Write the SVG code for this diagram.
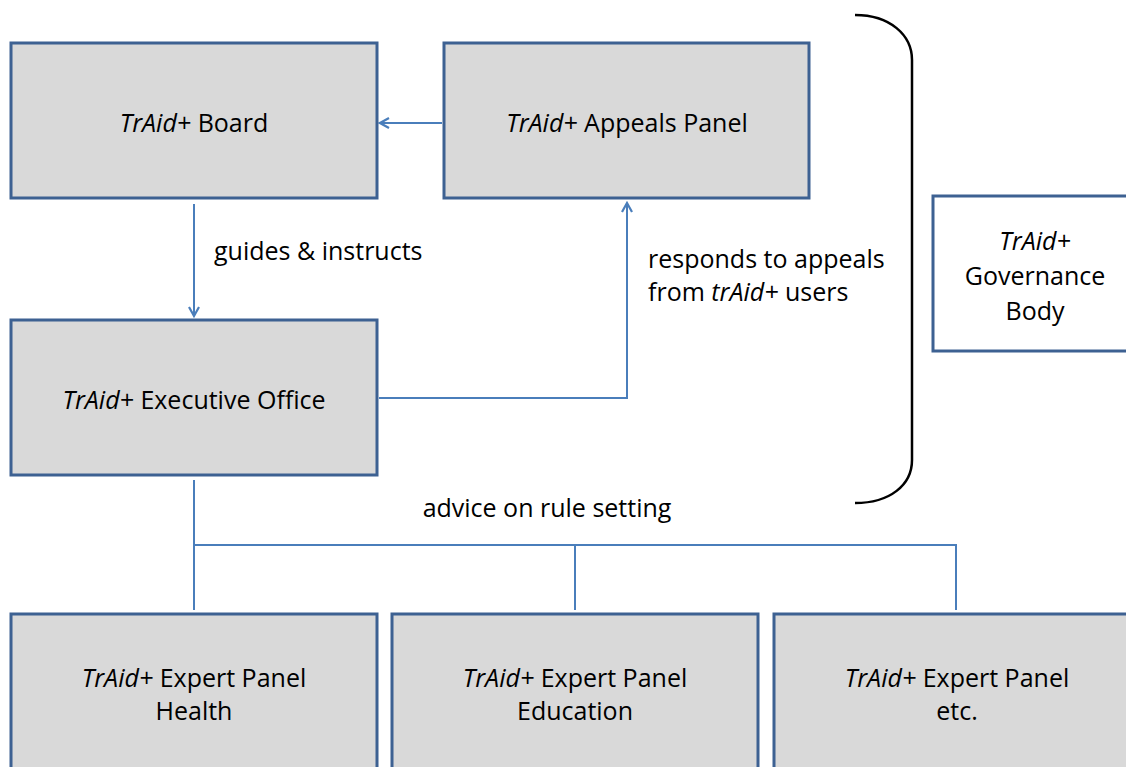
<svg xmlns="http://www.w3.org/2000/svg" width="1126" height="767" viewBox="0 0 1126 767">
<defs>
<style>
.box{fill:#d9d9d9;stroke:#3d6192;stroke-width:3}
.wbox{fill:#ffffff;stroke:#3d6192;stroke-width:3}
.t{font-family:"Open Sans","Liberation Sans",sans-serif;font-size:25px;fill:#000;text-anchor:middle}
.l{font-family:"Open Sans","Liberation Sans",sans-serif;font-size:25px;fill:#000}
.c{fill:none;stroke:#4a7ebb;stroke-width:2}
</style>
<marker id="ah" viewBox="0 0 12 12" refX="10" refY="6" markerWidth="12" markerHeight="12" markerUnits="userSpaceOnUse" orient="auto">
<path d="M1,1 L10,6 L1,11" fill="none" stroke="#4a7ebb" stroke-width="2.2"/>
</marker>
</defs>
<rect width="1126" height="767" fill="#ffffff"/>
<g id="connectors">
<line class="c" x1="442" y1="123" x2="380" y2="123" marker-end="url(#ah)"/>
<line class="c" x1="194" y1="204" x2="194" y2="316" marker-end="url(#ah)"/>
<polyline class="c" points="379,398 627,398 627,203" marker-end="url(#ah)"/>
<line class="c" x1="194" y1="480" x2="194" y2="610"/>
<polyline class="c" points="194,545 956,545 956,610"/>
<line class="c" x1="575" y1="545" x2="575" y2="610"/>
</g>
<g id="labels">
<text class="l" x="214" y="260">guides &amp; instructs</text>
<text class="l" x="648" y="268">responds to appeals</text>
<text class="l" x="648" y="301">from <tspan font-style="italic">trAid+</tspan> users</text>
<text class="t" x="547" y="517">advice on rule setting</text>
</g>
<g id="bracket">
<path d="M855,15 C890,15 912,35 912,60 L912,460 C912,485 890,503 855,503" fill="none" stroke="#000" stroke-width="2.5"/>
</g>
<g id="board"><rect class="box" x="11" y="43" width="366" height="155"/><text class="t" x="194" y="132"><tspan font-style="italic">TrAid+</tspan> Board</text></g>
<g id="appeals"><rect class="box" x="444" y="43" width="365" height="155"/><text class="t" x="627" y="132"><tspan font-style="italic">TrAid+</tspan> Appeals Panel</text></g>
<g id="executive"><rect class="box" x="11" y="320" width="366" height="155"/><text class="t" x="194" y="409"><tspan font-style="italic">TrAid+</tspan> Executive Office</text></g>
<g id="governance"><rect class="wbox" x="933" y="196" width="200" height="155"/><text class="t" x="1035" y="250" font-style="italic">TrAid+</text><text class="t" x="1035" y="285">Governance</text><text class="t" x="1035" y="320">Body</text></g>
<g id="health"><rect class="box" x="11" y="614" width="366" height="170"/><text class="t" x="194" y="687"><tspan font-style="italic">TrAid+</tspan> Expert Panel</text><text class="t" x="194" y="720">Health</text></g>
<g id="education"><rect class="box" x="392" y="614" width="366" height="170"/><text class="t" x="575" y="687"><tspan font-style="italic">TrAid+</tspan> Expert Panel</text><text class="t" x="575" y="720">Education</text></g>
<g id="etc"><rect class="box" x="774" y="614" width="366" height="170"/><text class="t" x="957" y="687"><tspan font-style="italic">TrAid+</tspan> Expert Panel</text><text class="t" x="957" y="720">etc.</text></g>
</svg>
